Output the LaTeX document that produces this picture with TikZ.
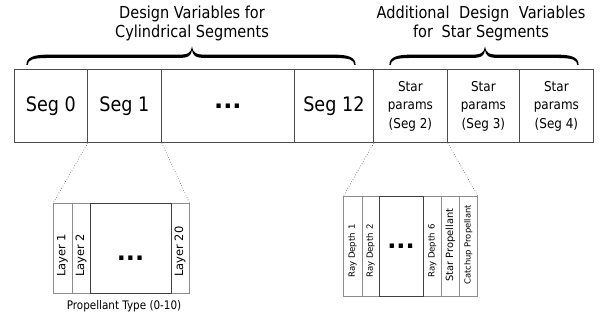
\documentclass[tikz,border=0pt]{standalone}
\usepackage{fontspec}
\setmainfont{DejaVu Sans}
\newfontfamily\cond[FakeStretch=0.88]{DejaVu Sans}
\begin{document}
\begin{tikzpicture}[x=1pt,y=1pt,
  cell/.style={draw=black!70, line width=0.8pt, minimum height=73pt, inner sep=0pt, anchor=south west},
  segtxt/.style={font=\cond\fontsize{20}{24}\selectfont},
  startxt/.style={font=\cond\fontsize{13.6}{18.5}\selectfont, align=center},
  lcell/.style={draw=black!45, line width=0.7pt, minimum height=90pt, inner sep=0pt, anchor=south west},
  rcell/.style={draw=black!45, line width=0.7pt, minimum height=100pt, inner sep=0pt, anchor=south west},
  bigcell/.style={draw=black!75, line width=1pt},
  dotstxt/.style={font=\bfseries\fontsize{24}{24}\selectfont, inner sep=0pt, anchor=base},
  rot/.style={rotate=90, anchor=west, inner sep=0pt},
  conn/.style={draw=black!70, dotted, line width=0.6pt},
  head/.style={font=\cond\fontsize{16.5}{19}\selectfont, align=center},
  bracefill/.style={fill=black}
]
\useasboundingbox (0,0) rectangle (603,320);

% headings
\node[head] (h1) at (192,296.5) {Design Variables for\\Cylindrical Segments};
\node[head] (h2) at (481,296.5) {Additional\hspace{5pt} Design\hspace{5pt} Variables\\for\hspace{4pt} Star Segments};

% braces
\def\bracepath#1#2#3#4{%
  \fill[bracefill] (#1-0.6,#4) .. controls (#1-0.6,#4+7) and (#1+5,#4+10.3) .. (#1+20,#4+10.3)
   -- (#3-14,#4+10.3) .. controls (#3-4,#4+10.3) and (#3-0.8,#4+12) .. (#3,#4+18.5)
   .. controls (#3+0.8,#4+12) and (#3+4,#4+10.3) .. (#3+14,#4+10.3)
   -- (#2-20,#4+10.3) .. controls (#2-5,#4+10.3) and (#2+0.6,#4+7) .. (#2+0.6,#4)
   -- (#2-0.6,#4) .. controls (#2-1,#4+5) and (#2-5,#4+7) .. (#2-20,#4+7)
   -- (#3+14,#4+7) .. controls (#3+4,#4+7) and (#3+0.6,#4+9) .. (#3,#4+15)
   .. controls (#3-0.6,#4+9) and (#3-4,#4+7) .. (#3-14,#4+7)
   -- (#1+20,#4+7) .. controls (#1+5,#4+7) and (#1+1,#4+5) .. (#1+0.6,#4) -- cycle;}
\bracepath{27}{355}{192}{255}
\bracepath{390}{578}{485}{255}

% main bar
\node[cell, minimum width=73pt, segtxt] (s0) at (14,177) {Seg 0};
\node[cell, minimum width=74pt, segtxt] (s1) at (87,177) {Seg 1};
\node[cell, minimum width=133pt] (sd) at (161,177) {};
\node[dotstxt] (sdt) at ([yshift=-2pt]sd.center) {...};
\node[cell, minimum width=79pt, segtxt] (s12) at (294,177) {Seg 12};
\node[cell, minimum width=74pt, startxt] (p2) at (373,177) {Star\\params\\(Seg 2)};
\node[cell, minimum width=72pt, startxt] (p3) at (447,177) {Star\\params\\(Seg 3)};
\node[cell, minimum width=74pt, startxt] (p4) at (519,177) {Star\\params\\(Seg 4)};

% layer group
\node[lcell, minimum width=19pt] (L1) at (53,26) {};
\node[lcell, minimum width=18pt] (L2) at (72,26) {};
\node[lcell, minimum width=18pt] (L20) at (171,26) {};
\node[lcell, bigcell, minimum width=81pt] (Ld) at (90,26) {};
\node[dotstxt] (Ldt) at (130.5,59) {...};
\node[rot, font=\fontsize{11.5}{13}\selectfont] (t1) at (62.5,43) {Layer 1};
\node[rot, font=\fontsize{11.5}{13}\selectfont] (t2) at (81,43) {Layer 2};
\node[rot, font=\fontsize{11.5}{13}\selectfont] (t20) at (180,43) {Layer 20};
\node[font=\cond\fontsize{11.8}{14}\selectfont] (pt) at (124,13.5) {Propellant Type (0-10)};

% star group
\node[rcell, minimum width=18.4pt] (R1) at (343.3,23) {};
\node[rcell, minimum width=17.6pt] (R2) at (361.7,23) {};
\node[rcell, minimum width=18pt] (R6) at (423.3,23) {};
\node[rcell, minimum width=18pt] (SP) at (441.3,23) {};
\node[rcell, minimum width=18pt] (CP) at (459.3,23) {};
\node[rcell, bigcell, minimum width=44pt] (Rd) at (379.3,23) {};
\node[dotstxt] (Rdt) at (401,71.3) {...};
\node[rot, font=\fontsize{8.6}{10}\selectfont] (r1t) at (352.5,42) {Ray Depth 1};
\node[rot, font=\fontsize{8.6}{10}\selectfont] (r2t) at (370.5,42) {Ray Depth 2};
\node[rot, font=\fontsize{8.6}{10}\selectfont] (r6t) at (432.3,42) {Ray Depth 6};
\node[rot, font=\fontsize{9.9}{11}\selectfont] (spt) at (450.3,38) {Star Propellant};
\node[rot, font=\fontsize{8.4}{10}\selectfont] (cpt) at (468.3,35) {Catchup Propellant};

% connectors
\draw[conn] (s0.south east) -- (L1.north west);
\draw[conn] (s1.south east) -- (L20.north east);
\draw[conn] (s12.south east) -- (R1.north west);
\draw[conn] (p2.south east) -- (CP.north east);
\end{tikzpicture}
\end{document}
